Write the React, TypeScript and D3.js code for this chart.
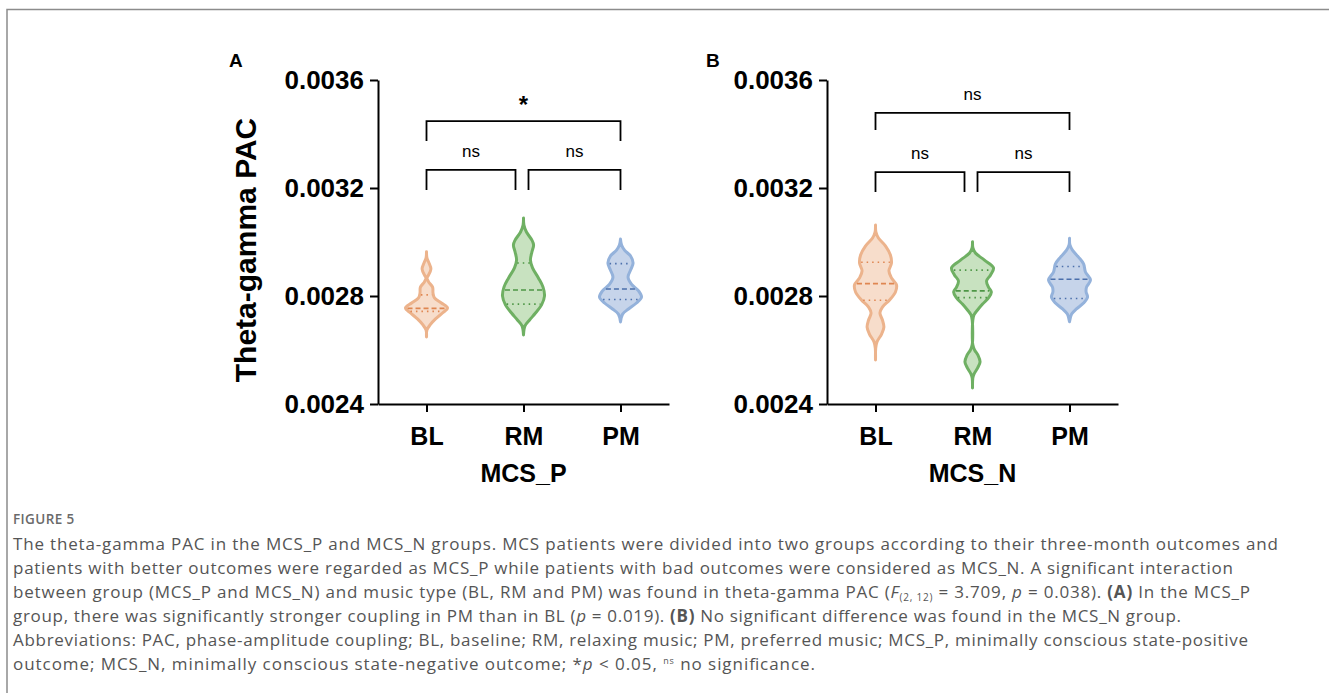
import React, { useEffect, useRef } from "react";
import * as d3 from "d3";

const groups = ["BL", "RM", "PM"];
const yTicks = [0.0024, 0.0028, 0.0032, 0.0036];

// violin outlines: [PAC value, relative half-width]
const mcsP_BL = [
  [0.002964, 0], [0.002941, 0.02], [0.002926, 0.1], [0.0029, 0.21], [0.002874, 0.07],
  [0.002867, 0.02], [0.002852, 0.1], [0.002833, 0.29], [0.002811, 0.31], [0.002793, 0.38],
  [0.002774, 0.71], [0.002756, 1], [0.002737, 0.76], [0.002715, 0.43], [0.002693, 0.17],
  [0.002674, 0.02], [0.002648, 0],
];
const mcsP_RM = [
  [0.003089, 0], [0.003063, 0.02], [0.003037, 0.14], [0.003007, 0.4], [0.002989, 0.48],
  [0.002963, 0.4], [0.002933, 0.33], [0.002904, 0.43], [0.002867, 0.71], [0.002833, 0.93],
  [0.0028, 1], [0.002767, 0.86], [0.002737, 0.57], [0.002711, 0.29], [0.002689, 0.07],
  [0.002656, 0],
];
const mcsP_PM = [
  [0.003011, 0], [0.002989, 0.05], [0.00297, 0.19], [0.002948, 0.48], [0.002922, 0.6],
  [0.002896, 0.48], [0.00287, 0.36], [0.002844, 0.52], [0.002819, 0.86], [0.002796, 1],
  [0.002774, 0.76], [0.002752, 0.38], [0.002733, 0.1], [0.002704, 0],
];
const mcsN_BL = [
  [0.003063, 0], [0.003037, 0.02], [0.003015, 0.14], [0.002985, 0.48], [0.002952, 0.71],
  [0.002922, 0.76], [0.002893, 0.64], [0.002867, 0.76], [0.002841, 1], [0.002815, 0.95],
  [0.002785, 0.67], [0.002759, 0.33], [0.002737, 0.21], [0.002711, 0.33], [0.002685, 0.4],
  [0.002659, 0.29], [0.00263, 0.07], [0.002607, 0.01], [0.002563, 0],
];
const mcsN_RM = [
  [0.003001, 0], [0.002978, 0.02], [0.002959, 0.14], [0.002933, 0.57], [0.002904, 1],
  [0.002878, 0.86], [0.002856, 0.67], [0.002833, 0.76], [0.002815, 0.9], [0.002793, 0.76],
  [0.00277, 0.48], [0.002748, 0.24], [0.00273, 0.07], [0.002711, 0.015], [0.002619, 0.015],
  [0.0026, 0.1], [0.002581, 0.26], [0.002556, 0.36], [0.002533, 0.24], [0.002511, 0.07],
  [0.002496, 0.015], [0.002459, 0],
];
const mcsN_PM = [
  [0.003014, 0], [0.002989, 0.02], [0.00297, 0.14], [0.002944, 0.43], [0.002919, 0.67],
  [0.002889, 0.76], [0.002859, 1], [0.002833, 0.81], [0.002815, 0.79], [0.002796, 0.86],
  [0.002774, 0.67], [0.002752, 0.33], [0.002733, 0.1], [0.002705, 0],
];

const mcsP_median = [0.002754, 0.002822, 0.002826];
const mcsP_q1 = [0.002743, 0.00277, 0.002787];
const mcsP_q3 = [0.002804, 0.002922, 0.00292];
const mcsN_median = [0.002846, 0.002819, 0.002862];
const mcsN_q1 = [0.002784, 0.002794, 0.002791];
const mcsN_q3 = [0.002925, 0.002896, 0.002909];

// significance brackets: [from, to, bar level, leg end, label]
const mcsP_brackets = [
  ["BL", "PM", 0.003448, 0.003374, "*"],
  ["BL", "RM", 0.003267, 0.003193, "ns"],
  ["RM", "PM", 0.003267, 0.003193, "ns"],
];
const mcsN_brackets = [
  ["BL", "PM", 0.003478, 0.003415, "ns"],
  ["BL", "RM", 0.003259, 0.003185, "ns"],
  ["RM", "PM", 0.003259, 0.003185, "ns"],
];

const panels = [
  { letter: "A", letterX: 229, title: "MCS_P", left: 378, violins: [mcsP_BL, mcsP_RM, mcsP_PM], med: mcsP_median, q1: mcsP_q1, q3: mcsP_q3, brackets: mcsP_brackets },
  { letter: "B", letterX: 706, title: "MCS_N", left: 827, violins: [mcsN_BL, mcsN_RM, mcsN_PM], med: mcsN_median, q1: mcsN_q1, q3: mcsN_q3, brackets: mcsN_brackets },
];

const strokeColors = ["#ecb38c", "#6fb063", "#94b2db"];
const fillColors = ["#f7ddcb", "#c8e2c0", "#c6d4ea"];
const lineColors = ["#df8651", "#4d9645", "#4b6fab"];

const FONT = "'Liberation Sans', Arial, sans-serif";
const HALF = 21;

const widthAt = (prof: number[][], v: number) => {
  const s = prof.slice().sort((a, b) => a[0] - b[0]);
  const i = Math.max(1, Math.min(s.length - 1, d3.bisector((d: number[]) => d[0]).left(s, v)));
  const a = s[i - 1], b = s[i];
  const t = (v - a[0]) / (b[0] - a[0]);
  return a[1] + (b[1] - a[1]) * t;
};

const Chart = () => {
  const svgRef = useRef<SVGSVGElement>(null);

  useEffect(() => {
    const svg = d3.select(svgRef.current);
    svg.selectAll("g.chart").remove();
    const root = svg.append("g").attr("class", "chart");

    const y = d3.scaleLinear().domain([0.0024, 0.0036]).range([404, 80]);

    panels.forEach((p, pi) => {
      const g = root.append("g");
      const x = d3.scalePoint().domain(groups).range([p.left, p.left + 291]).padding(0.5);

      // violins
      p.violins.forEach((prof, i) => {
        const cx = x(groups[i]) as number;
        const area = d3.area<number[]>()
          .y(d => y(d[0]))
          .x0(d => cx - d[1] * HALF)
          .x1(d => cx + d[1] * HALF)
          .curve(d3.curveCatmullRom.alpha(0.5));
        g.append("path")
          .attr("d", area(prof))
          .attr("fill", fillColors[i])
          .attr("stroke", strokeColors[i])
          .attr("stroke-width", 3)
          .attr("stroke-linejoin", "round")
          .attr("stroke-linecap", "round");

        const qLine = (v: number, dash: string) => {
          const w = widthAt(prof, v) * HALF - 1.5;
          if (w <= 0) return;
          g.append("line")
            .attr("x1", cx - w).attr("x2", cx + w)
            .attr("y1", y(v)).attr("y2", y(v))
            .attr("stroke", lineColors[i])
            .attr("stroke-width", 1.6)
            .attr("stroke-dasharray", dash);
        };
        qLine(p.med[i], "5,3");
        qLine(p.q1[i], "1.5,4");
        qLine(p.q3[i], "1.5,4");
      });

      // axes
      const yAxis = g.append("g")
        .attr("transform", `translate(${p.left},0)`)
        .call(d3.axisLeft(y).tickValues(yTicks).tickFormat(d3.format(".4f")).tickSize(8).tickSizeOuter(0).tickPadding(6));
      yAxis.selectAll("text")
        .attr("font-family", FONT).attr("font-weight", "bold").attr("font-size", 26).attr("fill", "#000");

      const xAxis = g.append("g")
        .attr("transform", "translate(0,404)")
        .call(d3.axisBottom(x).tickSize(8).tickSizeOuter(0).tickPadding(15));
      xAxis.selectAll("text")
        .attr("font-family", FONT).attr("font-weight", "bold").attr("font-size", 25).attr("fill", "#000");

      g.selectAll(".domain").attr("stroke", "#000").attr("stroke-width", 2);
      g.selectAll(".tick line").attr("stroke", "#000").attr("stroke-width", 2);

      g.append("text")
        .attr("x", p.left + 145.5).attr("y", 482)
        .attr("text-anchor", "middle")
        .attr("font-family", FONT).attr("font-weight", "bold").attr("font-size", 25)
        .text(p.title);

      g.append("text")
        .attr("x", p.letterX).attr("y", 67)
        .attr("font-family", FONT).attr("font-weight", "bold").attr("font-size", 19)
        .text(p.letter);

      if (pi === 0) {
        g.append("text")
          .attr("transform", `translate(256,250) rotate(-90)`)
          .attr("text-anchor", "middle")
          .attr("font-family", FONT).attr("font-weight", "bold").attr("font-size", 30)
          .text("Theta-gamma PAC");
      }

      // brackets
      p.brackets.forEach(([from, to, top, bottom, label]) => {
        const x1 = (x(from as string) as number) + (from === "RM" ? 5 : 0);
        const x2 = (x(to as string) as number) - (to === "RM" ? 8 : 0);
        const yt = y(top as number), yb = y(bottom as number);
        g.append("path")
          .attr("d", `M${x1},${yb}V${yt}H${x2}V${yb}`)
          .attr("fill", "none")
          .attr("stroke", "#000")
          .attr("stroke-width", 1.8);
        const star = label === "*";
        g.append("text")
          .attr("x", (x1 + x2) / 2)
          .attr("y", yt - (star ? 8 : 13))
          .attr("text-anchor", "middle")
          .attr("font-family", FONT)
          .attr("font-weight", star ? "bold" : "normal")
          .attr("font-size", star ? 24 : 17)
          .text(label as string);
      });
    });
  }, []);

  const cap = { fontFamily: "'Open Sans', 'Noto Sans', sans-serif", fontSize: 17, fill: "#555" };

  return (
    <svg ref={svgRef} width={1329} height={693} style={{ position: "absolute", left: 0, top: 0, background: "#fff" }}>
      <path d="M7,693V9.5H1329" fill="none" stroke="#8c8c8c" strokeWidth={1.5} />
      <text x={13} y={524} style={{ fontFamily: "'Open Sans', sans-serif", fontSize: 13.5, fill: "#6a6a6a", fontWeight: 600, letterSpacing: 0.4 }}>FIGURE 5</text>
      <text x={13} y={550} style={cap} textLength={1265} lengthAdjust="spacing">
        The theta-gamma PAC in the MCS_P and MCS_N groups. MCS patients were divided into two groups according to their three-month outcomes and
      </text>
      <text x={13} y={574} style={cap} textLength={1220} lengthAdjust="spacing">
        patients with better outcomes were regarded as MCS_P while patients with bad outcomes were considered as MCS_N. A significant interaction
      </text>
      <text x={13} y={598} style={cap} textLength={1237} lengthAdjust="spacing">
        between group (MCS_P and MCS_N) and music type (BL, RM and PM) was found in theta-gamma PAC (<tspan fontStyle="italic">F</tspan>
        <tspan fontSize={10} dy={3}>(2, 12)</tspan><tspan dy={-3}> = 3.709, </tspan><tspan fontStyle="italic">p</tspan> = 0.038). <tspan fontWeight="bold">(A)</tspan> In the MCS_P
      </text>
      <text x={13} y={622} style={cap} textLength={1168} lengthAdjust="spacing">
        group, there was significantly stronger coupling in PM than in BL (<tspan fontStyle="italic">p</tspan> = 0.019). <tspan fontWeight="bold">(B)</tspan> No significant difference was found in the MCS_N group.
      </text>
      <text x={13} y={646} style={cap} textLength={1235} lengthAdjust="spacing">
        Abbreviations: PAC, phase-amplitude coupling; BL, baseline; RM, relaxing music; PM, preferred music; MCS_P, minimally conscious state-positive
      </text>
      <text x={13} y={670} style={cap} textLength={802} lengthAdjust="spacing">
        outcome; MCS_N, minimally conscious state-negative outcome; *<tspan fontStyle="italic">p</tspan> &lt; 0.05, <tspan fontSize={9} dy={-6}>ns</tspan><tspan dy={6}> no significance.</tspan>
      </text>
    </svg>
  );
};

export default function App() {
  return <Chart />;
}
